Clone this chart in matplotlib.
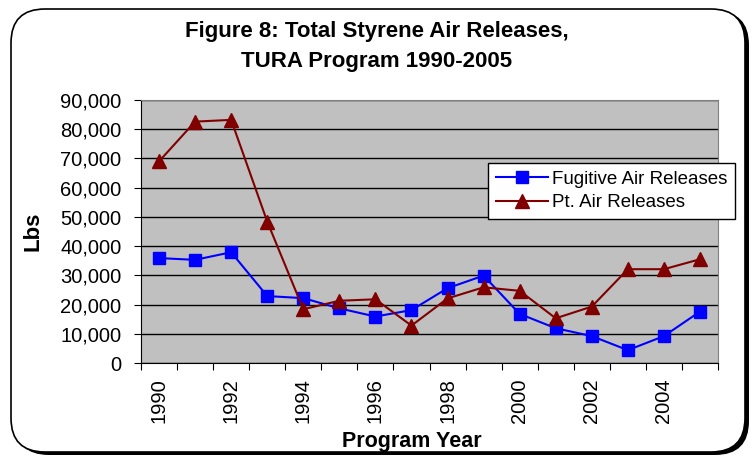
"""
Figure 8: Total Styrene Air Releases, TURA Program 1990-2005
"""
import matplotlib
matplotlib.use('Agg')
import matplotlib.pyplot as plt
from matplotlib.patches import FancyBboxPatch
from matplotlib.ticker import FuncFormatter, FixedLocator

plt.rcParams['font.family'] = ['Liberation Sans', 'DejaVu Sans']

# data
years = list(range(1990, 2006))
fugitive = [35900, 35300, 37900, 22900, 22200, 18700, 15900, 18100,
            25600, 29900, 16800, 11900, 9200, 4400, 9200, 17600]
point = [69000, 82600, 83200, 48400, 18400, 21300, 21800, 12800,
         22100, 25900, 24700, 15300, 19300, 32100, 32100, 35500]
yticks = list(range(0, 90001, 10000))

W, H = 754, 461
fig = plt.figure(figsize=(W / 100, H / 100), dpi=100)

# chart border with shadow
shadow = FancyBboxPatch((15 / W, 6 / H), 734 / W, 444 / H,
                        boxstyle="round,pad=0,rounding_size=0.045",
                        transform=fig.transFigure, facecolor='black',
                        edgecolor='black', lw=0, mutation_aspect=W / H,
                        zorder=-3)
border = FancyBboxPatch((11 / W, 9 / H), 734 / W, 443 / H,
                        boxstyle="round,pad=0,rounding_size=0.045",
                        transform=fig.transFigure, facecolor='white',
                        edgecolor='black', lw=1.2, mutation_aspect=W / H,
                        zorder=-2)
fig.patches.extend([shadow, border])

ax = fig.add_axes([141 / W, 1 - 363 / H, (718 - 141) / W, (363 - 100) / H])
ax.set_facecolor('#C0C0C0')

x = list(range(len(years)))
ax.plot(x, fugitive, color='#0000FF', marker='s', markersize=9, lw=1.5,
        label='Fugitive Air Releases', zorder=3)
ax.plot(x, point, color='#800000', marker='^', markersize=10, lw=1.5,
        label='Pt. Air Releases', zorder=3)

ax.set_xlim(-0.5, len(years) - 0.5)
ax.set_ylim(0, 90000)
ax.set_yticks(yticks)
ax.yaxis.set_major_formatter(FuncFormatter(lambda v, p: f'{int(v):,}'))
ax.grid(axis='y', color='black', lw=1)
ax.set_axisbelow(True)

# category axis: ticks between categories, labels on every other year
ax.xaxis.set_major_locator(FixedLocator([i - 0.5 for i in range(len(years) + 1)]))
ax.xaxis.set_major_formatter(FuncFormatter(lambda v, p: ''))
ax.xaxis.set_minor_locator(FixedLocator(x[::2]))
ax.set_xticklabels([str(y) for y in years[::2]], minor=True, rotation=90)
ax.tick_params(axis='x', which='minor', length=0, pad=11, labelsize=14.5)
ax.tick_params(axis='x', which='major', length=5, direction='out', color='black')
ax.tick_params(axis='y', length=5, direction='out', labelsize=14.5, color='black',
               pad=9)

for s in ['top', 'right']:
    ax.spines[s].set_color('#808080')
for s in ['left', 'bottom']:
    ax.spines[s].set_color('black')

ax.set_ylabel('Lbs', fontsize=16, fontweight='bold', labelpad=12)
fig.text(412 / W, 1 - 447 / H, 'Program Year', ha='center', va='baseline',
         fontsize=15.5, fontweight='bold')

fig.text(377 / W, 1 - 31 / H, 'Figure 8: Total Styrene Air Releases,',
         ha='center', va='center', fontsize=16, fontweight='bold')
fig.text(377 / W, 1 - 61 / H, 'TURA Program 1990-2005',
         ha='center', va='center', fontsize=16, fontweight='bold')

leg = ax.legend(loc='upper left', bbox_to_anchor=(488 / W, 1 - 163 / H),
                bbox_transform=fig.transFigure, fontsize=13.5, frameon=True,
                fancybox=False, edgecolor='black', framealpha=1,
                borderpad=0.4, labelspacing=0.35, handlelength=2.8,
                handletextpad=0.2, borderaxespad=0)
leg.get_frame().set_linewidth(1)

fig.savefig('out.png', dpi=100)
